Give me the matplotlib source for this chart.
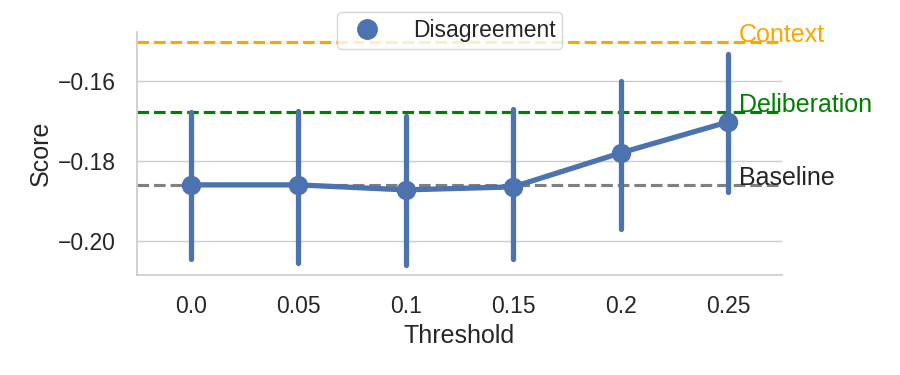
import matplotlib
matplotlib.use("Agg")
import matplotlib.pyplot as plt
import seaborn as sns
from matplotlib.lines import Line2D

sns.set_theme(style="whitegrid")
plt.rcParams['font.family'] = ['Liberation Sans', 'DejaVu Sans']

thresholds = ["0.0", "0.05", "0.1", "0.15", "0.2", "0.25"]
scores = [-0.186, -0.186, -0.18725, -0.1865, -0.178, -0.17025]
ci_low = [-0.2045, -0.2055, -0.206, -0.2045, -0.197, -0.1877]
ci_high = [-0.1678, -0.1675, -0.1688, -0.1670, -0.1600, -0.1533]

ref_names = ["Context", "Deliberation", "Baseline"]
ref_values = [-0.1502, -0.1678, -0.1860]
ref_colors = ["orange", "green", "grey"]
ref_text_colors = ["orange", "green", "#262626"]

blue = "#4c72b0"

fig = plt.figure(figsize=(9, 3.75), dpi=100)
ax = fig.add_axes([0.152, 0.267, 0.717, 0.648])

x = list(range(len(thresholds)))
ax.vlines(x, ci_low, ci_high, color=blue, lw=3.8, capstyle='round', zorder=3)
ax.plot(x, scores, color=blue, lw=3.8, marker='o', markersize=13, zorder=4)

for name, v, c, tc in zip(ref_names, ref_values, ref_colors, ref_text_colors):
    ax.axhline(v, color=c, ls='--', lw=2.25, zorder=2)
    ax.text(5.1, v, name, color=tc, fontsize=18)

ax.set_xticks(x)
ax.set_xticklabels(thresholds)
ax.set_xlim(-0.5, 5.5)
ax.set_ylim(-0.2085, -0.14775)
ax.set_yticks([-0.20, -0.18, -0.16])
ax.set_yticklabels(["\u22120.20", "\u22120.18", "\u22120.16"])
ax.tick_params(axis='x', labelsize=16.5, pad=8.5)
ax.tick_params(axis='y', labelsize=16.5, pad=9)
ax.set_xlabel("Threshold", fontsize=18)
ax.set_ylabel("Score", fontsize=18)
ax.grid(axis='x', visible=False)
sns.despine(ax=ax)

handle = Line2D([], [], color=blue, marker='o', linestyle='none', markersize=14)
ax.legend([handle], ["Disagreement"], loc='upper center', bbox_to_anchor=(0.485, 1.128),
          fontsize=16.5, handletextpad=1.0, borderpad=0.3)

fig.savefig("out.png", dpi=100)
